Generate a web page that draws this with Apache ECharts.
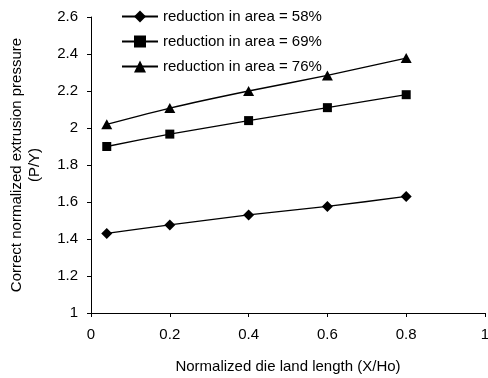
<!DOCTYPE html>
<html>
<head>
<meta charset="utf-8">
<script src="https://cdn.jsdelivr.net/npm/echarts@6/dist/echarts.min.js"></script>
<style>
  html, body { margin: 0; padding: 0; background: #fff; }
  #chart { width: 488px; height: 378px; }
</style>
</head>
<body>
<div id="chart"></div>
<script>
// die land length (X/Ho)
var xValues = [0.04, 0.2, 0.4, 0.6, 0.8];
var seriesNames = ['reduction in area = 58%', 'reduction in area = 69%', 'reduction in area = 76%'];
var ra58 = [1.43, 1.476, 1.53, 1.576, 1.63];
var ra69 = [1.90, 1.967, 2.04, 2.11, 2.18];
var ra76 = [2.02, 2.108, 2.20, 2.284, 2.378];
var symbols = ['diamond', 'rect', 'triangle'];
var symbolSizes = [11, 9, [11, 10]];

function pairs(ys) {
  return xValues.map(function (x, i) { return [x, ys[i]]; });
}

var font = 'Liberation Sans, Arial, sans-serif';
var chart = echarts.init(document.getElementById('chart'));
var allData = [ra58, ra69, ra76];

chart.setOption({
  animation: false,
  grid: { left: 91, right: 3, top: 17, bottom: 65, containLabel: false, outerBoundsMode: 'none' },
  legend: {
    orient: 'vertical',
    left: 121,
    top: 9,
    padding: 0,
    itemWidth: 36,
    itemHeight: 15,
    itemGap: 10,
    textStyle: { color: '#000', fontSize: 15, fontFamily: font },
    data: seriesNames
  },
  xAxis: {
    type: 'value',
    min: 0, max: 1, interval: 0.2,
    name: 'Normalized die land length (X/Ho)',
    nameLocation: 'middle',
    nameGap: 46,
    nameTextStyle: { color: '#000', fontSize: 15, fontFamily: font },
    axisLine: { lineStyle: { color: '#000', width: 1 } },
    axisTick: { show: true, length: 4, lineStyle: { color: '#000' } },
    axisLabel: { color: '#000', fontSize: 15, fontFamily: font, margin: 14 },
    splitLine: { show: false }
  },
  yAxis: {
    type: 'value',
    min: 1, max: 2.6, interval: 0.2,
    name: 'Correct normalized extrusion pressure\n(P/Y)',
    nameLocation: 'middle',
    nameGap: 47,
    nameTextStyle: { color: '#000', fontSize: 15, fontFamily: font, lineHeight: 18 },
    axisLine: { show: true, lineStyle: { color: '#000', width: 1 } },
    axisTick: { show: true, length: 4, lineStyle: { color: '#000' } },
    axisLabel: { color: '#000', fontSize: 15, fontFamily: font, margin: 13 },
    splitLine: { show: false }
  },
  series: allData.map(function (d, i) {
    return {
      name: seriesNames[i],
      type: 'line',
      data: pairs(d),
      smooth: 0.2,
      symbol: symbols[i],
      symbolSize: symbolSizes[i],
      lineStyle: { color: '#000', width: 1.3 },
      itemStyle: { color: '#000' }
    };
  })
});
</script>
</body>
</html>
